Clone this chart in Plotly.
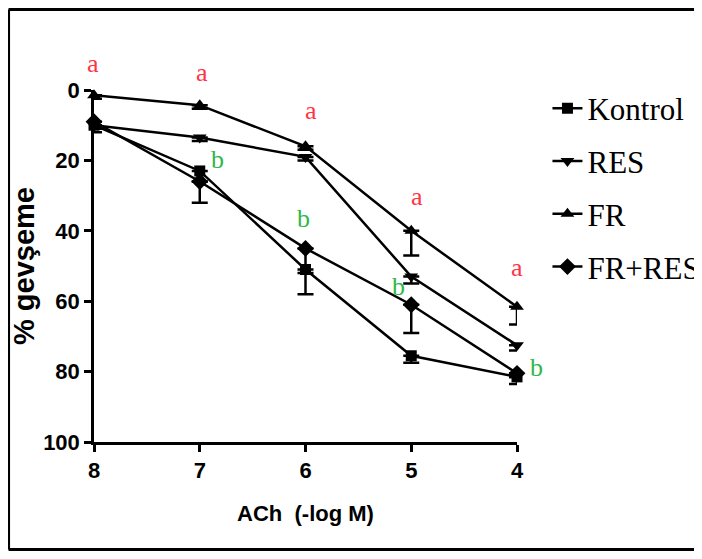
import plotly.graph_objects as go

doses = [8, 7, 6, 5, 4]
tick_vals = [8, 7, 6, 5, 4]
tick_text = ["8", "7", "6", "5", "4"]
y_ticks = [0, 20, 40, 60, 80, 100]

kontrol = [10, 23, 51, 75.5, 81.5]
kontrol_err = [2, 3, 7, 2, 2]
res = [10, 13.5, 19, 53, 72.5]
res_err = [1, 1, 1, 2, 1.5]
fr = [1.5, 4.3, 16, 40, 61.6]
fr_err = [1, 1, 1, 7, 5]
frres = [9, 26, 45, 61, 80.5]
frres_err = [2, 6, 7, 8, 1]

# significance letters: "a" over FR points, "b" beside FR+RES points
letters_a_doses = [8, 7, 6, 5, 4]
letters_b_doses = [7, 6, 5, 4]

# label offsets in pixels (style)
a_xshift = [-1, 2, 5, 6, 0]
a_yshift = [32, 33, 36, 34, 39]
b_xshift = [18, -2, -13, 19]
b_yshift = [22, 30, 18, 6]

series = [
    ("Kontrol", kontrol, kontrol_err, "square", 11),
    ("RES", res, res_err, "triangle-down", 12),
    ("FR", fr, fr_err, "triangle-up", 12),
    ("FR+RES", frres, frres_err, "diamond", 13),
]

fig = go.Figure()
for i, (name, vals, err, sym, sz) in enumerate(series):
    fig.add_trace(go.Scatter(
        x=doses, y=vals, name=name, mode="lines+markers",
        line=dict(color="black", width=2.5),
        marker=dict(symbol=sym, size=sz, color="black"),
        error_y=dict(type="data", array=err, arrayminus=[0]*len(err),
                     symmetric=False, color="black", thickness=2.5, width=8),
        cliponaxis=False, legendgroup=f"g{i}",
    ))

for k, d in enumerate(letters_a_doses):
    fig.add_annotation(x=d, y=fr[doses.index(d)], text="a", showarrow=False,
                       xshift=a_xshift[k], yshift=a_yshift[k],
                       font=dict(family="Liberation Serif", size=26, color="#ff3344"))
for k, d in enumerate(letters_b_doses):
    fig.add_annotation(x=d, y=frres[doses.index(d)], text="b", showarrow=False,
                       xshift=b_xshift[k], yshift=b_yshift[k],
                       font=dict(family="Liberation Serif", size=26, color="#2fb84a"))

# outer frame: left, top and bottom edges only
frame = dict(color="black", width=3)
fig.add_shape(type="line", xref="paper", yref="paper",
              x0=-0.202, x1=-0.202, y0=-0.3054, y1=1.229, line=frame, layer="below")
fig.add_shape(type="line", xref="paper", yref="paper",
              x0=-0.202, x1=1.43, y0=1.229, y1=1.229, line=frame, layer="below")
fig.add_shape(type="line", xref="paper", yref="paper",
              x0=-0.202, x1=1.43, y0=-0.3054, y1=-0.3054, line=frame, layer="below")

tick_font = dict(family="Arial, Liberation Sans", size=22, color="black", weight="bold")

fig.update_layout(
    width=694, height=543,
    margin=dict(l=86, r=185, t=82, b=109, autoexpand=False),
    plot_bgcolor="white", paper_bgcolor="white",
    showlegend=True,
    legend=dict(x=1.072, y=1.024, xanchor="left", yanchor="top",
                font=dict(family="Liberation Serif", size=31, color="black"),
                traceorder="grouped", tracegroupgap=9.5, itemwidth=30,
                bgcolor="rgba(0,0,0,0)"),
    xaxis=dict(range=[8, 4], tickvals=tick_vals, ticktext=tick_text,
               showline=True, linecolor="black", linewidth=2.5,
               ticks="outside", ticklen=7, tickwidth=2.5, tickcolor="black",
               showgrid=False, zeroline=False, automargin=False,
               tickfont=tick_font,
               title=dict(text="ACh  (-log M)", standoff=24,
                          font=dict(family="Arial, Liberation Sans", size=22,
                                    color="black", weight="bold"))),
    yaxis=dict(range=[100, 0], tickvals=y_ticks,
               showline=True, linecolor="black", linewidth=2.5,
               ticks="outside", ticklen=7, tickwidth=2.5, tickcolor="black",
               showgrid=False, zeroline=False, automargin=False,
               tickfont=tick_font,
               title=dict(text="% gevşeme", standoff=11,
                          font=dict(family="Arial, Liberation Sans", size=29,
                                    color="black", weight="bold"))),
)

fig.write_html("out.html")
